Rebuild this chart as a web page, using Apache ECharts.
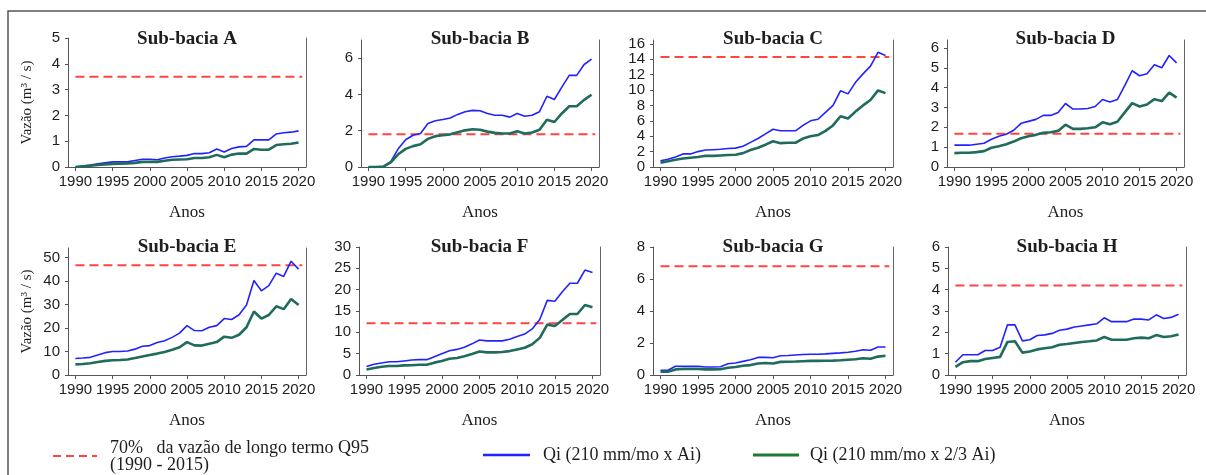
<!DOCTYPE html>
<html lang="pt">
<head>
  <meta charset="UTF-8">
  <title>Sub-bacias - vazão</title>
  <style>
    * { margin: 0; padding: 0; }
    body { background: #fff; overflow: hidden; }
    #chart { width: 1206px; height: 475px; }
  </style>
</head>
<body>
  <div id="chart"></div>
  <script src="https://cdn.jsdelivr.net/npm/echarts@6/dist/echarts.min.js"></script>
  <script>
    const years = [1990, 1991, 1992, 1993, 1994, 1995, 1996, 1997, 1998, 1999, 2000,
      2001, 2002, 2003, 2004, 2005, 2006, 2007, 2008, 2009, 2010,
      2011, 2012, 2013, 2014, 2015, 2016, 2017, 2018, 2019, 2020];
    const tickYears = [1990, 1995, 2000, 2005, 2010, 2015, 2020];

    const panelNames = ['Sub-bacia A', 'Sub-bacia B', 'Sub-bacia C', 'Sub-bacia D',
      'Sub-bacia E', 'Sub-bacia F', 'Sub-bacia G', 'Sub-bacia H'];

    // 70% da vazão de longo termo Q95
    const thresholds = [3.5, 1.8, 14.3, 1.67, 46.7, 12.1, 6.8, 4.2];

    const yMax = [5, 7, 16.5, 6.4, 54, 30, 8, 6];
    const yStep = [1, 2, 2, 1, 10, 5, 2, 1];
    const yLabels = [
      [0, 1, 2, 3, 4, 5],
      [0, 2, 4, 6],
      [0, 2, 4, 6, 8, 10, 12, 14, 16],
      [0, 1, 2, 3, 4, 5, 6],
      [0, 10, 20, 30, 40, 50],
      [0, 5, 10, 15, 20, 25, 30],
      [0, 2, 4, 6, 8],
      [0, 1, 2, 3, 4, 5, 6]
    ];

    // Qi (210 mm/mo x Ai)
    const qiA = [0, 0.04, 0.08, 0.12, 0.16, 0.2, 0.2, 0.2, 0.25, 0.3, 0.3, 0.28, 0.35, 0.4, 0.42, 0.45,
      0.52, 0.52, 0.55, 0.7, 0.58, 0.72, 0.78, 0.8, 1.05, 1.05, 1.05, 1.28, 1.33, 1.35, 1.4];
    const qiB = [0, 0, 0.02, 0.3, 1.0, 1.5, 1.75, 1.85, 2.4, 2.55, 2.62, 2.7, 2.9, 3.05, 3.12, 3.1,
      2.95, 2.85, 2.85, 2.75, 2.95, 2.8, 2.85, 3.05, 3.9, 3.72, 4.4, 5.05, 5.05, 5.65, 5.95];
    const qiC = [0.8, 1.0, 1.3, 1.7, 1.7, 2.0, 2.2, 2.25, 2.3, 2.4, 2.45, 2.7, 3.2, 3.7, 4.3, 4.9,
      4.7, 4.7, 4.7, 5.4, 6.0, 6.2, 7.1, 8.0, 9.9, 9.5, 11.0, 12.1, 13.1, 14.9, 14.5];
    const qiD = [1.1, 1.1, 1.1, 1.15, 1.2, 1.4, 1.55, 1.65, 1.85, 2.2, 2.3, 2.4, 2.6, 2.6, 2.75, 3.2,
      2.92, 2.92, 2.95, 3.05, 3.4, 3.28, 3.4, 4.1, 4.85, 4.6, 4.7, 5.15, 5.0, 5.62, 5.25];
    const qiE = [7.0, 7.2, 7.5, 8.5, 9.5, 10.0, 10.0, 10.2, 11.0, 12.2, 12.5, 13.8, 14.6, 16.0, 17.8, 21.0,
      18.9, 18.8, 20.3, 21.0, 24.0, 23.6, 25.6, 29.8, 40.2, 35.8, 38.0, 43.3, 41.9, 48.4, 45.0];
    const qiF = [2.0, 2.5, 2.8, 3.1, 3.1, 3.3, 3.5, 3.6, 3.6, 4.3, 5.0, 5.7, 6.0, 6.5, 7.3, 8.2,
      8.0, 8.0, 8.0, 8.4, 9.0, 9.6, 10.8, 13.0, 17.5, 17.3, 19.5, 21.5, 21.5, 24.6, 24.0];
    const qiG = [0.3, 0.3, 0.55, 0.55, 0.55, 0.55, 0.5, 0.5, 0.52, 0.7, 0.75, 0.85, 0.95, 1.1, 1.1, 1.08,
      1.2, 1.22, 1.25, 1.28, 1.3, 1.3, 1.32, 1.35, 1.38, 1.42, 1.48, 1.58, 1.55, 1.75, 1.75];
    const qiH = [0.6, 0.95, 0.95, 0.95, 1.15, 1.15, 1.3, 2.35, 2.35, 1.6, 1.65, 1.85, 1.88, 1.95, 2.1, 2.15,
      2.25, 2.3, 2.35, 2.4, 2.68, 2.5, 2.5, 2.5, 2.62, 2.62, 2.58, 2.82, 2.65, 2.7, 2.85];

    // Qi (210 mm/mo x 2/3 Ai)
    const qi23A = [0, 0.03, 0.05, 0.08, 0.1, 0.12, 0.13, 0.14, 0.16, 0.2, 0.2, 0.2, 0.24, 0.28, 0.29, 0.3,
      0.35, 0.35, 0.38, 0.47, 0.38, 0.48, 0.52, 0.52, 0.7, 0.67, 0.67, 0.85, 0.88, 0.9, 0.95];
    const qi23B = [0, 0, 0.02, 0.25, 0.7, 1.0, 1.15, 1.25, 1.55, 1.7, 1.75, 1.8, 1.92, 2.02, 2.08, 2.05,
      1.95, 1.88, 1.85, 1.85, 1.97, 1.85, 1.9, 2.05, 2.6, 2.48, 2.95, 3.35, 3.35, 3.7, 3.98];
    const qi23C = [0.55, 0.75, 0.95, 1.1, 1.2, 1.3, 1.45, 1.45, 1.5, 1.55, 1.6, 1.8, 2.2, 2.5, 2.9, 3.35,
      3.1, 3.15, 3.15, 3.7, 4.0, 4.15, 4.7, 5.4, 6.6, 6.3, 7.2, 8.0, 8.7, 9.95, 9.6];
    const qi23D = [0.7, 0.72, 0.72, 0.75, 0.8, 0.97, 1.05, 1.15, 1.28, 1.45, 1.55, 1.62, 1.72, 1.75, 1.82, 2.13,
      1.92, 1.92, 1.95, 2.0, 2.25, 2.15, 2.28, 2.75, 3.22, 3.05, 3.15, 3.42, 3.32, 3.75, 3.5];
    const qi23E = [4.5, 4.7, 5.0, 5.5, 6.0, 6.3, 6.4, 6.6, 7.2, 7.9, 8.5, 9.1, 9.8, 10.7, 11.8, 14.0,
      12.6, 12.5, 13.3, 14.0, 16.3, 15.8, 17.1, 20.3, 27.0, 24.0, 25.5, 29.2, 28.0, 32.3, 29.8];
    const qi23F = [1.3, 1.65, 1.95, 2.1, 2.1, 2.25, 2.3, 2.4, 2.4, 2.9, 3.3, 3.8, 4.0, 4.4, 4.9, 5.5,
      5.3, 5.3, 5.4, 5.6, 6.0, 6.4, 7.2, 8.7, 11.8, 11.5, 12.9, 14.3, 14.3, 16.4, 15.9];
    const qi23G = [0.2, 0.2, 0.35, 0.38, 0.38, 0.38, 0.35, 0.35, 0.36, 0.45, 0.5, 0.58, 0.62, 0.72, 0.75, 0.72,
      0.82, 0.83, 0.84, 0.86, 0.88, 0.88, 0.89, 0.9, 0.92, 0.95, 0.98, 1.05, 1.02, 1.15, 1.2];
    const qi23H = [0.38, 0.6, 0.65, 0.65, 0.75, 0.8, 0.85, 1.55, 1.58, 1.05, 1.1, 1.2, 1.25, 1.3, 1.42, 1.45,
      1.5, 1.55, 1.58, 1.62, 1.78, 1.65, 1.65, 1.65, 1.72, 1.75, 1.72, 1.87, 1.78, 1.82, 1.9];

    const qiFull = [qiA, qiB, qiC, qiD, qiE, qiF, qiG, qiH];
    const qiTwoThirds = [qi23A, qi23B, qi23C, qi23D, qi23E, qi23F, qi23G, qi23H];

    const BLUE = '#2222ff';
    const GREEN = '#1f6b5c';
    const RED = '#ff4444';
    const TEXT = '#1e1e1e';
    const AXIS = '#555';

    // plot boxes [left, top, right, bottom] in px
    const boxes = [
      [68, 38, 306, 167], [361, 40, 599, 167], [653, 40, 893, 167], [947, 40, 1184, 167],
      [68, 248, 306, 375], [359, 247, 600, 375], [653, 247, 893, 375], [948, 247, 1186, 375]
    ];

    const grid = [], xAxis = [], yAxis = [], series = [], graphic = [];

    boxes.forEach((b, i) => {
      grid.push({ left: b[0], top: b[1], width: b[2] - b[0], height: b[3] - b[1] });

      xAxis.push({
        type: 'value', gridIndex: i, min: 1989, max: 2021,
        splitLine: { show: false },
        axisLine: { show: true, lineStyle: { color: AXIS, width: 1 } },
        axisTick: { show: true, customValues: tickYears, length: 4, lineStyle: { color: AXIS } },
        axisLabel: {
          customValues: tickYears, color: TEXT, fontSize: 15,
          fontFamily: 'Liberation Sans', margin: 7,
          formatter: v => String(v)
        },
        name: 'Anos', nameLocation: 'middle', nameGap: 37,
        nameTextStyle: { fontFamily: 'Liberation Serif', fontSize: 17, color: TEXT }
      });

      const left = {
        type: 'value', gridIndex: i, position: 'left', min: 0, max: yMax[i], interval: yStep[i],
        splitLine: { show: false },
        axisLine: { show: true, lineStyle: { color: AXIS, width: 1 } },
        axisTick: { show: true, customValues: yLabels[i], length: 3, lineStyle: { color: AXIS } },
        axisLabel: {
          customValues: yLabels[i], color: TEXT, fontSize: 15,
          fontFamily: 'Liberation Sans', margin: 8
        }
      };
      if (i % 4 === 0) {
        left.name = 'Vazão (m³ / s)';
        left.nameLocation = 'middle';
        left.nameGap = 33;
        left.nameTextStyle = { fontFamily: 'Liberation Serif', fontSize: 15, color: TEXT };
      }
      yAxis.push(left);
      yAxis.push({
        type: 'value', gridIndex: i, position: 'right', min: 0, max: yMax[i],
        splitLine: { show: false },
        axisLine: { show: true, lineStyle: { color: '#666', width: 1 } },
        axisTick: { show: false },
        axisLabel: { show: false }
      });

      series.push({
        name: '70% da vazão de longo termo Q95 (1990 - 2015)',
        type: 'line', xAxisIndex: i, yAxisIndex: 2 * i,
        data: [[years[0], thresholds[i]], [2020.5, thresholds[i]]],
        showSymbol: false, silent: true,
        lineStyle: { color: RED, width: 2, type: [9, 5] }
      });
      series.push({
        name: 'Qi (210 mm/mo x Ai)',
        type: 'line', xAxisIndex: i, yAxisIndex: 2 * i,
        data: years.map((y, k) => [y, qiFull[i][k]]),
        showSymbol: false, silent: true,
        lineStyle: { color: BLUE, width: 1.6 }
      });
      series.push({
        name: 'Qi (210 mm/mo x 2/3 Ai)',
        type: 'line', xAxisIndex: i, yAxisIndex: 2 * i,
        data: years.map((y, k) => [y, qiTwoThirds[i][k]]),
        showSymbol: false, silent: true,
        lineStyle: { color: GREEN, width: 2.6 }
      });

      graphic.push({
        type: 'text', x: (b[0] + b[2]) / 2, y: i < 4 ? 39 : 247,
        style: {
          text: panelNames[i], fill: TEXT, align: 'center', verticalAlign: 'middle',
          font: 'bold 19px "Liberation Serif"'
        }
      });
    });

    // outer frame
    graphic.push({
      type: 'rect', shape: { x: 8, y: 11, width: 1220, height: 500 },
      style: { fill: 'none', stroke: '#555', lineWidth: 1.5 }
    });

    // legend
    const legendFont = '18px "Liberation Serif"';
    graphic.push(
      { type: 'line', shape: { x1: 53, y1: 456, x2: 97, y2: 456 },
        style: { stroke: RED, lineWidth: 2, lineDash: [8, 5] } },
      { type: 'text', x: 110, y: 448,
        style: { text: '70%   da vazão de longo termo Q95', fill: TEXT, font: legendFont, verticalAlign: 'middle' } },
      { type: 'text', x: 110, y: 465,
        style: { text: '(1990 - 2015)', fill: TEXT, font: legendFont, verticalAlign: 'middle' } },
      { type: 'line', shape: { x1: 483, y1: 455, x2: 530, y2: 455 },
        style: { stroke: BLUE, lineWidth: 2.5 } },
      { type: 'text', x: 543, y: 455,
        style: { text: 'Qi (210 mm/mo x Ai)', fill: TEXT, font: legendFont, verticalAlign: 'middle' } },
      { type: 'line', shape: { x1: 753, y1: 455, x2: 799, y2: 455 },
        style: { stroke: '#1f7a33', lineWidth: 3 } },
      { type: 'text', x: 810, y: 455,
        style: { text: 'Qi (210 mm/mo x 2/3 Ai)', fill: TEXT, font: legendFont, verticalAlign: 'middle' } }
    );

    const chart = echarts.init(document.getElementById('chart'), null, { renderer: 'canvas' });
    chart.setOption({
      animation: false,
      backgroundColor: '#fff',
      grid, xAxis, yAxis, series, graphic
    });
  </script>
</body>
</html>
